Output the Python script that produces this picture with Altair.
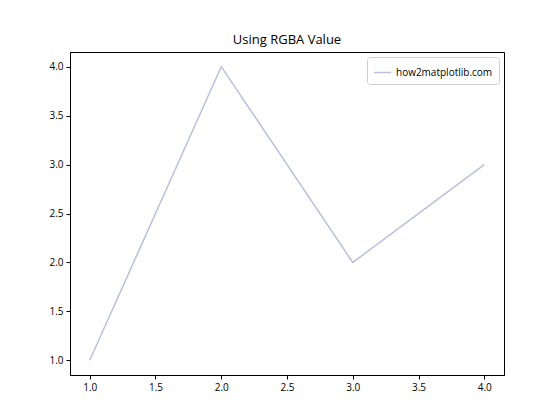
import altair as alt
import pandas as pd

x_vals = [1, 2, 3, 4]
y_vals = [1, 4, 2, 3]
series = ["how2matplotlib.com"] * 4
tick_vals = [1.0, 1.5, 2.0, 2.5, 3.0, 3.5, 4.0]

df = pd.DataFrame({"x": x_vals, "y": y_vals, "s": series})

FONT = "Open Sans"

chart = alt.Chart(df).mark_line(strokeWidth=1.5).encode(
    x=alt.X("x:Q", scale=alt.Scale(domain=[0.85, 4.15], nice=False, zero=False),
            axis=alt.Axis(values=tick_vals, format=".1f", title=None)),
    y=alt.Y("y:Q", scale=alt.Scale(domain=[0.85, 4.15], nice=False, zero=False),
            axis=alt.Axis(values=tick_vals, format=".1f", title=None)),
    color=alt.Color("s:N", scale=alt.Scale(range=["#bcbeda"]),
                    legend=alt.Legend(title=None, orient="top-right")),
).properties(
    width=434, height=323,
    title=alt.TitleParams("Using RGBA Value", font=FONT, fontSize=13, fontWeight="normal",
                          color="black", offset=5),
    autosize=alt.AutoSizeParams(type="none"),
    padding={"left": 62, "top": 44, "right": 48, "bottom": 37},
).configure_view(
    stroke="black", strokeWidth=1
).configure_axis(
    grid=False, domainColor="black", tickColor="black", tickSize=4,
    labelColor="black", labelFont=FONT, labelFontSize=10, labelPadding=3,
    domainWidth=1, tickWidth=1
).configure_legend(
    labelFont=FONT, labelFontSize=10, labelColor="black",
    symbolType="stroke", symbolStrokeWidth=1.5, symbolSize=300,
    strokeColor="#d0d0d0", fillColor="white", cornerRadius=3,
    padding=6, offset=5
)

chart.save("out.html", embed_options={"renderer": "svg", "actions": False})
